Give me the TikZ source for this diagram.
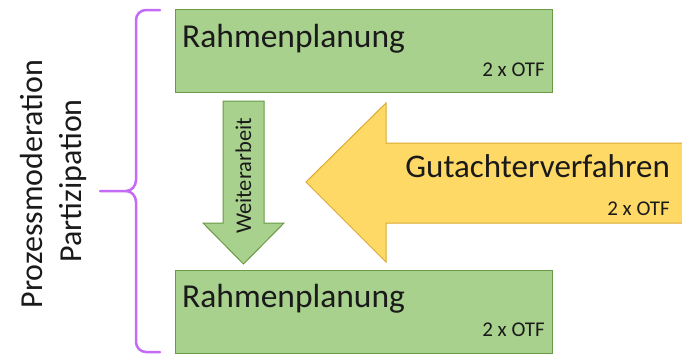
\documentclass[tikz,border=0pt]{standalone}
\usepackage{fontspec}
\setmainfont{Carlito}
\usetikzlibrary{positioning}

\definecolor{planfill}{HTML}{A9D18E}
\definecolor{planline}{HTML}{6A9A45}
\definecolor{gutfill}{HTML}{FFD966}
\definecolor{gutline}{HTML}{D9AA2E}
\definecolor{bracecol}{HTML}{C46BF5}
\definecolor{txt}{HTML}{1A1A1A}

\tikzset{
  planbox/.style={draw=planline,fill=planfill,line width=1pt,minimum width=377pt,minimum height=83pt,inner sep=0pt},
  bigtext/.style={text=txt,font=\fontsize{33.5}{38}\selectfont,inner sep=0pt},
  smalltext/.style={text=txt,font=\fontsize{21}{25}\selectfont,inner sep=0pt},
  sidetext/.style={text=txt,font=\fontsize{32}{38}\selectfont,inner sep=0pt,rotate=90}
}

\begin{document}
\begin{tikzpicture}[x=1pt,y=-1pt]
\useasboundingbox (0,0) rectangle (682,354);

% boxes
\node[planbox] (plan1) at (363.5,50.5) {};
\node[planbox] (plan2) at (363.5,311.5) {};

\node[bigtext,anchor=base west] (plan1t) at (182,47) {Rahmenplanung};
\node[smalltext,anchor=base east] (plan1n) at (545,76) {2 x OTF};
\node[bigtext,anchor=base west] (plan2t) at (182,307) {Rahmenplanung};
\node[smalltext,anchor=base east] (plan2n) at (545,336) {2 x OTF};

% down arrow
\draw[planline,fill=planfill,line width=1pt,line join=miter]
  (223,101) -- (264,101) -- (264,223) -- (284,223) -- (243.5,264) -- (203,223) -- (223,223) -- cycle;
\node[text=txt,font=\fontsize{22.5}{26}\selectfont,inner sep=0pt,rotate=90] (weiter) at (243.5,176) {Weiterarbeit};

% left arrow
\draw[gutline,fill=gutfill,line width=1pt,line join=miter]
  (306,182) -- (386,103) -- (386,143) -- (690,143) -- (690,223) -- (386,223) -- (386,262) -- cycle;
\node[text=txt,font=\fontsize{33}{38}\selectfont,inner sep=0pt,anchor=base east] (gut) at (670,177) {Gutachterverfahren};
\node[smalltext,anchor=base east] (gutn) at (670,215) {2 x OTF};

% brace
\draw[bracecol,line width=2.5pt,line cap=round]
  (160,10) -- (146,10) to[out=180,in=90] (136,20) -- (136,180)
  to[out=-90,in=0] (126,191) -- (100,191);
\draw[bracecol,line width=2.5pt,line cap=round]
  (160,352) -- (146,352) to[out=180,in=-90] (136,342) -- (136,202)
  to[out=90,in=0] (126,191);

\node[sidetext] (proz) at (32,184) {Prozessmoderation};
\node[sidetext] (part) at (73,181) {Partizipation};
\end{tikzpicture}
\end{document}
